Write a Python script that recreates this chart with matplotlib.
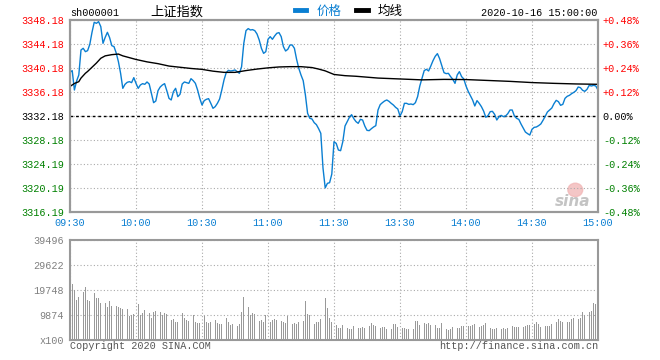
import numpy as np
import matplotlib
matplotlib.use("Agg")
import matplotlib.pyplot as plt
from matplotlib.patches import Ellipse

# ---- data -------------------------------------------------------------
prev_close = 3332.18

price_ticks = ["3348.18", "3344.18", "3340.18", "3336.18", "3332.18",
               "3328.18", "3324.19", "3320.19", "3316.19"]
pct_ticks = ["+0.48%", "+0.36%", "+0.24%", "+0.12%", "0.00%",
             "-0.12%", "-0.24%", "-0.36%", "-0.48%"]
pct_values = [0.48, 0.36, 0.24, 0.12, 0.0, -0.12, -0.24, -0.36, -0.48]
time_labels = ["09:30", "10:00", "10:30", "11:00", "11:30",
               "13:30", "14:00", "14:30", "15:00"]
vol_labels = ["x100", "9874", "19748", "29622", "39496"]
vol_ticks = [0, 9874, 19748, 29622, 39496]

# one value per minute, 09:30 .. 11:30 then 13:01 .. 15:00
price = [
    3339.46, 3339.74, 3336.51, 3338.01, 3339.01, 3343.18, 3343.46, 3342.90, 3343.07, 3344.12,
    3346.12, 3347.79, 3347.62, 3347.90, 3347.07, 3344.29, 3345.29, 3346.12, 3345.24, 3343.90,
    3343.74, 3342.68, 3341.24, 3339.29, 3336.79, 3337.46, 3337.79, 3337.90, 3337.74, 3338.57,
    3337.62, 3336.79, 3337.35, 3337.57, 3337.46, 3337.85, 3337.51, 3335.96, 3334.40, 3334.68,
    3336.40, 3337.01, 3337.35, 3337.57, 3336.40, 3335.12, 3334.85, 3336.24, 3336.79, 3335.40,
    3335.79, 3337.51, 3337.85, 3337.74, 3337.62, 3338.40, 3338.07, 3337.62, 3336.51, 3335.12,
    3334.01, 3334.74, 3334.96, 3335.07, 3334.29, 3333.46, 3333.74, 3334.29, 3335.01, 3336.51,
    3338.18, 3339.40, 3339.79, 3339.68, 3339.74, 3339.85, 3339.57, 3339.29, 3340.40, 3344.29,
    3346.40, 3346.74, 3346.51, 3346.57, 3346.40, 3345.85, 3344.85, 3343.46, 3342.62, 3342.90,
    3344.96, 3345.40, 3344.96, 3345.51, 3345.96, 3346.07, 3345.40, 3343.74, 3343.01, 3343.29,
    3344.01, 3344.01, 3343.46, 3341.62, 3340.12, 3339.01, 3338.07, 3335.68, 3332.62, 3331.80,
    3331.68, 3331.07, 3330.74, 3330.07, 3329.29, 3323.50, 3320.20, 3320.96, 3321.07, 3322.51,
    3327.90, 3327.62, 3326.51, 3326.40, 3327.90, 3330.51, 3331.24, 3331.96, 3332.40, 3331.74,
    3331.24, 3330.96, 3331.62, 3331.51, 3330.51, 3329.79, 3329.74, 3330.07, 3330.35, 3330.57,
    3333.18, 3334.07, 3334.40, 3334.68, 3334.85, 3334.62, 3334.29, 3334.01, 3333.62, 3333.35,
    3332.18, 3332.90, 3334.29, 3334.29, 3334.12, 3334.18, 3334.07, 3334.40, 3335.40, 3337.18,
    3338.46, 3339.74, 3339.96, 3339.68, 3340.51, 3341.40, 3342.12, 3342.57, 3341.74, 3340.57,
    3339.40, 3339.24, 3339.29, 3338.74, 3338.29, 3337.62, 3339.01, 3339.57, 3338.74, 3338.35,
    3337.18, 3336.29, 3335.57, 3334.85, 3333.85, 3334.74, 3334.29, 3333.74, 3333.01, 3331.96,
    3332.24, 3332.90, 3332.96, 3332.46, 3331.51, 3332.07, 3332.29, 3332.07, 3332.18, 3332.57,
    3333.18, 3333.18, 3332.18, 3331.79, 3331.62, 3330.85, 3330.18, 3329.51, 3329.24, 3329.01,
    3329.96, 3330.29, 3330.35, 3330.57, 3330.85, 3331.46, 3332.12, 3332.85, 3333.18, 3333.51,
    3334.24, 3334.79, 3334.57, 3333.96, 3334.12, 3335.12, 3335.46, 3335.62, 3335.90, 3336.12,
    3336.40, 3337.01, 3336.90, 3336.46, 3336.29, 3336.62, 3337.29, 3337.18, 3337.29, 3337.18,
    3336.51,
]

# average line, read at a few minutes
avg_minute = [0, 2, 4, 5, 7, 8, 10, 12, 14, 16, 19, 22, 24, 27, 30, 35, 40, 45, 50, 55,
              60, 65, 70, 75, 80, 85, 90, 95, 100, 105, 110, 113, 116, 120, 125, 130,
              140, 150, 160, 170, 180, 190, 200, 210, 220, 230, 240]
avg_price = [3337.1, 3337.6, 3337.9, 3338.5, 3339.3, 3339.6, 3340.3, 3341.0, 3341.8, 3342.2,
             3342.4, 3342.5, 3342.2, 3341.9, 3341.6, 3341.2, 3340.9, 3340.5, 3340.3, 3340.1,
             3339.95, 3339.65, 3339.45, 3339.45, 3339.75, 3340.0, 3340.2, 3340.35, 3340.4,
             3340.4, 3340.25, 3340.0, 3339.7, 3339.1, 3338.9, 3338.8, 3338.5, 3338.35,
             3338.2, 3338.28, 3338.25, 3338.1, 3337.95, 3337.75, 3337.62, 3337.52, 3337.46]

# volume per minute (x100 shares)
volume = [
    39496, 21986, 19748, 15798, 17115, 21064, 19089, 21064, 15798, 15535,
    16061, 18431, 16456, 16720, 14482, 14087, 14482, 13165, 15403, 13560,
    13165, 13560, 13165, 12770, 12243, 12902, 12243, 9610, 9874, 10269,
    11454, 14087, 9874, 10532, 11849, 9874, 10532, 8821, 10927, 11454,
    11454, 10927, 9874, 10532, 10137, 8294, 7899, 8294, 6977, 7241,
    9216, 10795, 8821, 7899, 7504, 7899, 9874, 7241, 6846, 6583,
    10137, 9610, 6977, 6583, 6977, 6977, 7899, 6583, 6188, 6320,
    10269, 8557, 6977, 5924, 6188, 6188, 5529, 6188, 10927, 17115,
    17509, 13165, 9874, 10532, 10269, 7899, 7504, 7899, 6977, 9874,
    11454, 6977, 7899, 8294, 7899, 7241, 7504, 6977, 6583, 9610,
    6583, 6188, 6583, 6188, 6977, 6977, 7504, 15403, 10137, 9874,
    6188, 6188, 6977, 6977, 8294, 6583, 16720, 12770, 8557, 6977,
    20669,
    5924, 4871, 4871, 5924, 4871, 4608, 4344, 4344, 5661, 4608,
    4871, 4871, 5134, 4871, 4871, 5661, 6583, 5924, 5661, 4608,
    4871, 5266, 5266, 4344, 4344, 4344, 6188, 6451, 5266, 5003,
    4871, 4871, 4213, 4344, 4344, 4344, 7504, 7504, 5924, 5266,
    6583, 6188, 6583, 5924, 5661, 5924, 4608, 4871, 6583, 4871,
    4344, 3950, 4344, 5266, 5266, 4871, 4608, 5661, 5661, 5266,
    5661, 5661, 5924, 6188, 4871, 5266, 5661, 5924, 6583, 5661,
    4871, 4344, 4344, 4871, 4608, 4344, 4608, 4344, 4608, 6188,
    5661, 5266, 5266, 5266, 5266, 5266, 5661, 5924, 5924, 5924,
    6188, 6977, 6188, 5266, 5661, 5661, 5661, 5661, 6188, 6188,
    6977, 8294, 7504, 6977, 6583, 6977, 7241, 8294, 8821, 8557,
    8294, 8557, 10927, 9874, 11190, 10927, 11454, 14482, 14218, 1317,
]

# ---- style ------------------------------------------------------------
RED = "#ff0000"
GREEN = "#008000"
BLUE = "#0a7fd2"
FRAME = "#999999"
GRID = "#aaaaaa"
MONO = "Liberation Mono"
CJK = ["Noto Sans CJK SC", "DejaVu Sans"]

W, H = 660, 360
minutes = np.arange(len(price))
tick_pos = np.arange(0, 241, 30)


def fx(px):
    return px / W


def fy(py):
    return 1 - py / H


fig = plt.figure(figsize=(6.6, 3.6), dpi=100)
ax = fig.add_axes([fx(70), fy(212), fx(598) - fx(70), fy(20) - fy(212)])
axv = fig.add_axes([fx(70), fy(340), fx(598) - fx(70), fy(240) - fy(340)])

# ---- price panel ------------------------------------------------------
ylevels = [prev_close * (1 + p / 100) for p in pct_values]
ax.plot(minutes, price, color=BLUE, lw=1.0, zorder=3, label="价格")
ax.plot(avg_minute, avg_price, color="black", lw=1.0, zorder=3, label="均线")
ax.axhline(prev_close, color="black", lw=1.0, linestyle=(0, (2, 2)), zorder=2)

ax.set_xlim(0, 240)
ax.set_ylim(ylevels[-1], ylevels[0])
ax.set_xticks(tick_pos)
ax.set_xticklabels(time_labels, fontfamily=MONO, fontsize=7.3, color=BLUE)
ax.set_yticks(ylevels)
ax.set_yticklabels(price_ticks, fontfamily=MONO, fontsize=7.3)
ax.tick_params(length=0, pad=4.5)
ax.grid(True, color=GRID, linestyle=(0, (1, 2)), lw=0.8)
for lab, p in zip(ax.get_yticklabels(), pct_values):
    lab.set_color(RED if p > 0 else (GREEN if p < 0 else "black"))

ax2 = ax.twinx()
ax2.set_ylim(ax.get_ylim())
ax2.set_yticks(ylevels)
ax2.set_yticklabels(pct_ticks, fontfamily=MONO, fontsize=7.3)
ax2.tick_params(length=0, pad=3.5)
for lab, p in zip(ax2.get_yticklabels(), pct_values):
    lab.set_color(RED if p > 0 else (GREEN if p < 0 else "black"))

for a in (ax, ax2, axv):
    for s in a.spines.values():
        s.set_color(FRAME)
        s.set_linewidth(1.5)

# watermark
ax.add_patch(Ellipse((0.957, 0.115), 0.028, 0.07, transform=ax.transAxes,
                     color="#f2b8b8", alpha=0.8, zorder=1))
ax.text(0.985, 0.015, "sina", transform=ax.transAxes, ha="right", va="bottom",
        fontsize=11, fontweight="bold", style="italic", color="#c4c4c4", zorder=1)

# ---- volume panel -----------------------------------------------------
axv.bar(minutes, volume, width=0.45, color=FRAME, zorder=2)
axv.set_xlim(0, 240)
axv.set_ylim(0, vol_ticks[-1])
axv.set_xticks(tick_pos)
axv.set_xticklabels([])
axv.set_yticks(vol_ticks)
axv.set_yticklabels(vol_labels, fontfamily=MONO, fontsize=7.3, color="#808080")
axv.tick_params(length=0, pad=4.5)
axv.grid(True, color=GRID, linestyle=(0, (1, 2)), lw=0.8)

# ---- header / footer --------------------------------------------------
fig.text(fx(70), fy(12.5), "sh000001", fontfamily=MONO, fontsize=7.3,
         va="center", ha="left")
fig.text(fx(177), fy(12), "上证指数", family=CJK, fontsize=9.5,
         va="center", ha="center")
leg = ax.legend(loc="center left", bbox_to_anchor=(fx(290 - 70) / (fx(598) - fx(70)), 1.045),
                ncol=2, frameon=False, handlelength=0.9, handletextpad=0.8,
                columnspacing=1.2, borderaxespad=0, prop={"family": CJK, "size": 9})
for h in leg.legend_handles:
    h.set_linewidth(3.5)
for t, c in zip(leg.get_texts(), [BLUE, "black"]):
    t.set_color(c)
fig.text(fx(597), fy(12.5), "2020-10-16 15:00:00", fontfamily=MONO, fontsize=7.3,
         va="center", ha="right")
fig.text(fx(70), fy(346), "Copyright 2020 SINA.COM", fontfamily=MONO, fontsize=7.3,
         va="center", ha="left", color="#555555")
fig.text(fx(598), fy(346), "http://finance.sina.com.cn", fontfamily=MONO, fontsize=7.3,
         va="center", ha="right", color="#555555")

plt.savefig("out.png", dpi=100)
plt.close()
